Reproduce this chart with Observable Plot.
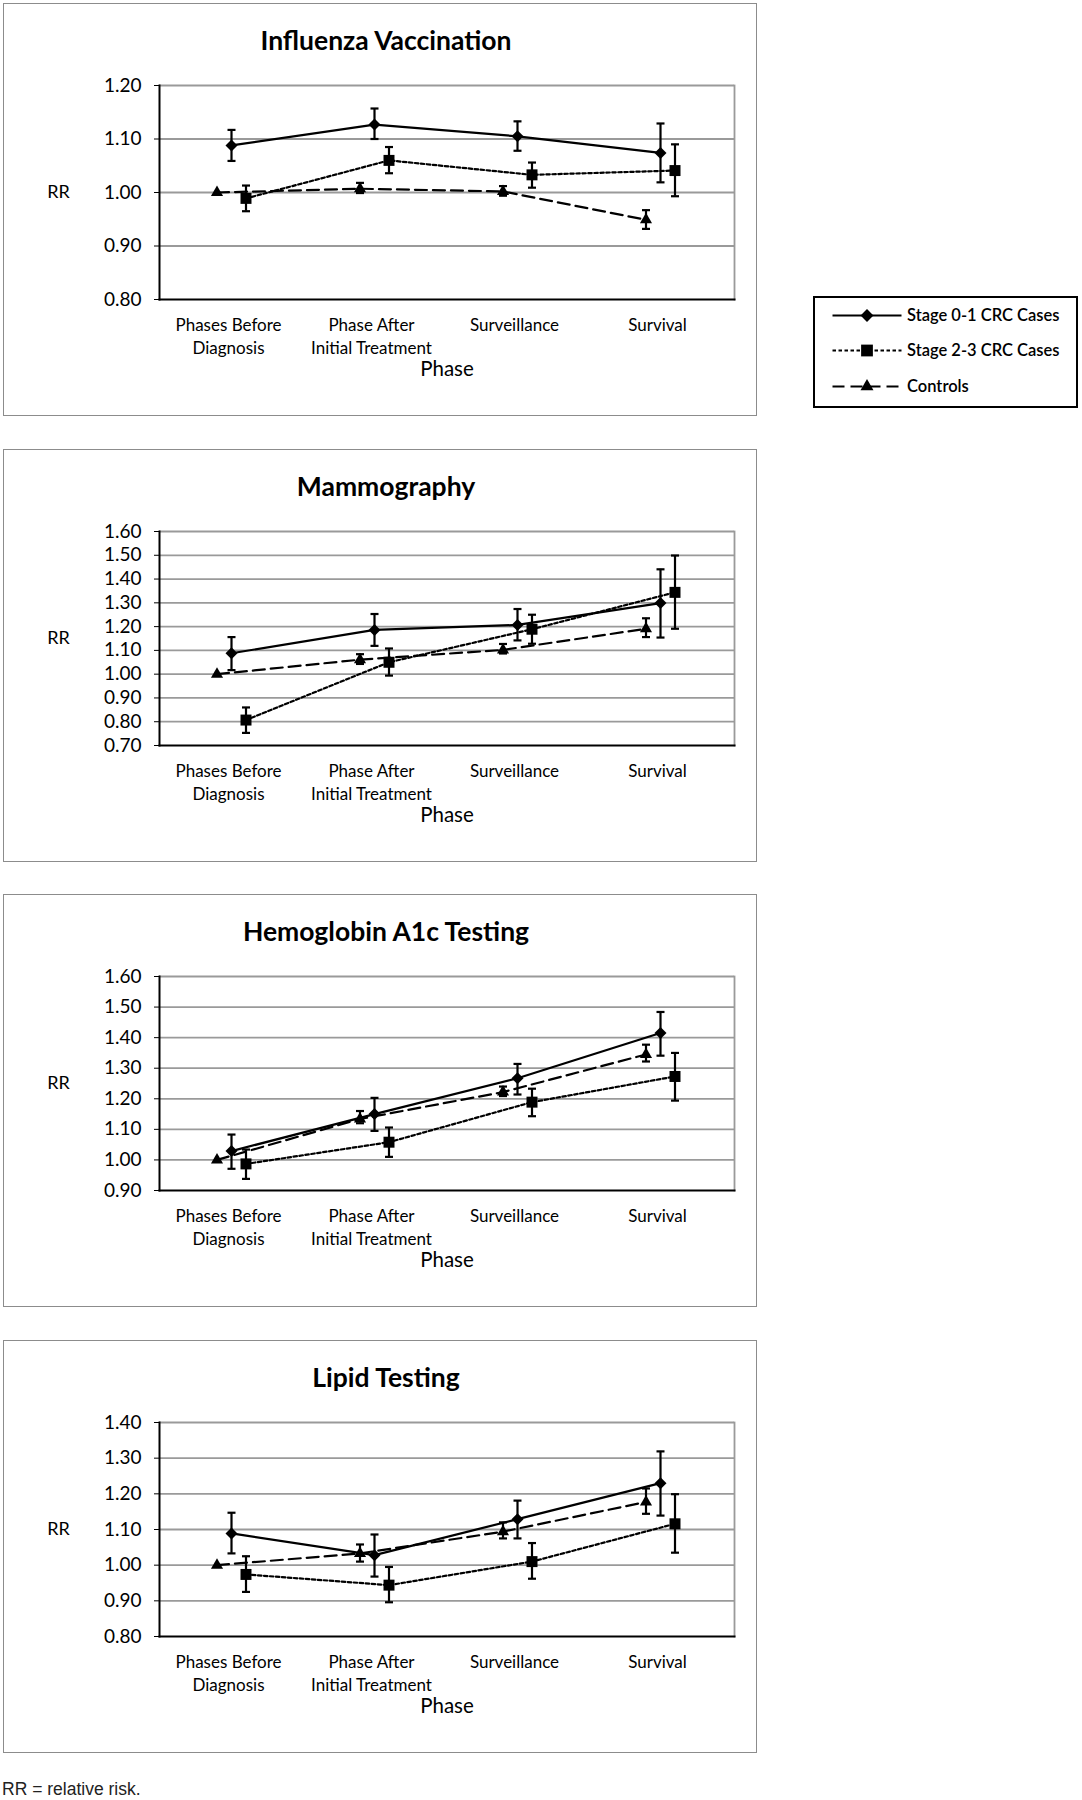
<!DOCTYPE html>
<html>
<head>
<meta charset="utf-8">
<script src="https://cdn.jsdelivr.net/npm/d3@7"></script>
<script src="https://cdn.jsdelivr.net/npm/@observablehq/plot@0.6"></script>
<style>
  body { margin: 0; background: #fff; }
  #page { position: relative; width: 1082px; height: 1800px; overflow: hidden; font-family: Lato, "Open Sans", sans-serif; color: #000; }
  .panel { position: absolute; left: 3px; width: 754px; height: 413px; border: 1.5px solid #8c8c8c; box-sizing: border-box; }
  .title { position: absolute; left: 0; width: 772px; text-align: center; font-size: 26.5px; line-height: 26px; font-weight: 700; }
  .plotwrap { position: absolute; left: 0; }
  .legend { position: absolute; left: 813px; top: 296px; width: 265px; height: 112px; border: 2.5px solid #000; box-sizing: border-box; }
  .caption { position: absolute; left: 2px; top: 1780px; font-family: "Liberation Sans", Arial, sans-serif; font-size: 17.5px; line-height: 19px; color: #222; }
</style>
</head>
<body>
<div id="page"></div>
<script>
// ---------- data ----------
const phases = ["Phases Before\nDiagnosis", "Phase After\nInitial Treatment", "Surveillance", "Survival"];
const seriesNames = ["Stage 0-1 CRC Cases", "Stage 2-3 CRC Cases", "Controls"];
const panelTitles = ["Influenza Vaccination", "Mammography", "Hemoglobin A1c Testing", "Lipid Testing"];
const yDomains = [[0.8, 1.2], [0.7, 1.6], [0.9, 1.6], [0.8, 1.4]];

// rows: Stage 0-1, Stage 2-3, Controls; columns: phases
const fluRR   = [[1.088, 1.127, 1.105, 1.074], [0.989, 1.060, 1.033, 1.041], [1.000, 1.007, 1.002, 0.949]];
const fluLow  = [[1.059, 1.100, 1.078, 1.019], [0.965, 1.036, 1.009, 0.993], [null, 0.999, 0.994, 0.932]];
const fluHigh = [[1.117, 1.157, 1.133, 1.129], [1.013, 1.085, 1.056, 1.090], [null, 1.018, 1.012, 0.967]];

const mamRR   = [[1.088, 1.186, 1.207, 1.299], [0.807, 1.050, 1.189, 1.344], [1.000, 1.061, 1.102, 1.191]];
const mamLow  = [[1.017, 1.119, 1.142, 1.154], [0.753, 0.994, 1.128, 1.191], [null, 1.043, 1.087, 1.156]];
const mamHigh = [[1.156, 1.253, 1.274, 1.441], [0.860, 1.108, 1.250, 1.499], [null, 1.084, 1.127, 1.235]];

const hbaRR   = [[1.029, 1.150, 1.267, 1.415], [0.987, 1.058, 1.189, 1.273], [1.000, 1.134, 1.222, 1.345]];
const hbaLow  = [[0.971, 1.095, 1.214, 1.341], [0.938, 1.010, 1.143, 1.194], [null, 1.120, 1.209, 1.322]];
const hbaHigh = [[1.083, 1.203, 1.314, 1.484], [1.034, 1.106, 1.233, 1.350], [null, 1.160, 1.240, 1.377]];

const lipRR   = [[1.089, 1.028, 1.129, 1.230], [0.974, 0.944, 1.010, 1.116], [1.000, 1.033, 1.094, 1.177]];
const lipLow  = [[1.033, 0.968, 1.075, 1.139], [0.925, 0.896, 0.962, 1.035], [null, 1.010, 1.075, 1.144]];
const lipHigh = [[1.147, 1.086, 1.181, 1.319], [1.025, 0.995, 1.062, 1.199], [null, 1.058, 1.120, 1.215]];

// ---------- styles ----------
const seriesSymbols = ["diamond2", "square", "triangle"];
const seriesR = [5.4, 6.2, 4.5];
const seriesDash = [null, "3.5,2.5", "12,6"];
const seriesDx = [-1, 13.5, -15.5];
const panelTops = [3, 449, 894, 1340];

const capSymbol = {
  draw(context, size) {
    const r = Math.sqrt(size / Math.PI);
    context.moveTo(-r, 0);
    context.lineTo(r, 0);
  }
};

const page = document.getElementById("page");
const panelData = [
  [fluRR, fluLow, fluHigh],
  [mamRR, mamLow, mamHigh],
  [hbaRR, hbaLow, hbaHigh],
  [lipRR, lipLow, lipHigh]
];

panelData.forEach(([rr, lo, hi], i) => {
  const top = panelTops[i];
  const box = document.createElement("div");
  box.className = "panel";
  box.style.top = top + "px";
  page.appendChild(box);

  const t = document.createElement("div");
  t.className = "title";
  t.style.top = (top + 24) + "px";
  t.textContent = panelTitles[i];
  page.appendChild(t);

  const dom = yDomains[i];
  const ticks = d3.range(Math.round(dom[0] * 10), Math.round(dom[1] * 10) + 1).map(d => d / 10);

  const marks = [
    Plot.ruleY(ticks.slice(1), {stroke: "#9a9a9a", strokeWidth: 1.8}),
    Plot.frame({anchor: "right", stroke: "#9a9a9a", strokeWidth: 1.8}),
    Plot.frame({anchor: "left", stroke: "#000", strokeWidth: 2}),
    Plot.frame({anchor: "bottom", stroke: "#000", strokeWidth: 2}),
    Plot.axisY({ticks, tickFormat: d3.format(".2f"), tickSize: 5, tickPadding: 13, fontSize: 19, label: null}),
    Plot.text(["RR"], {frameAnchor: "left", dx: -101, textAnchor: "middle", fontSize: 18}),
    Plot.text(phases, {x: d => d, frameAnchor: "bottom", lineAnchor: "top", dy: 15, dx: -4, fontSize: 17, lineHeight: 1.35}),
    Plot.text(["Phase"], {frameAnchor: "bottom", dy: 70, fontSize: 20.5, lineAnchor: "middle"})
  ];

  seriesNames.forEach((name, s) => {
    const rows = phases.map((p, j) => ({phase: p, rr: rr[s][j], lo: lo[s][j], hi: hi[s][j]}));
    const err = rows.filter(d => d.lo != null);
    const dx = seriesDx[s];
    marks.push(
      Plot.line(rows, {x: "phase", y: "rr", dx, stroke: "#000", strokeWidth: 2.2, strokeDasharray: seriesDash[s]}),
      Plot.ruleX(err, {x: "phase", y1: "lo", y2: "hi", dx, stroke: "#000", strokeWidth: 2.2}),
      Plot.dot(err, {x: "phase", y: "lo", dx, symbol: capSymbol, r: 4, fill: "none", stroke: "#000", strokeWidth: 2.2}),
      Plot.dot(err, {x: "phase", y: "hi", dx, symbol: capSymbol, r: 4, fill: "none", stroke: "#000", strokeWidth: 2.2}),
      Plot.dot(rows, {x: "phase", y: "rr", dx, symbol: seriesSymbols[s], r: seriesR[s], fill: "#000", stroke: "none"})
    );
  });

  const chart = Plot.plot({
    width: 757,
    height: 324,
    marginLeft: 159,
    marginRight: 23,
    marginTop: 20,
    marginBottom: 90,
    style: {fontFamily: "Lato, 'Open Sans', sans-serif", fontSize: "16px", color: "#000", background: "transparent", overflow: "visible"},
    x: {type: "point", domain: phases, padding: 0.5, axis: null},
    y: {domain: dom},
    marks
  });
  const wrap = document.createElement("div");
  wrap.className = "plotwrap";
  wrap.style.top = (top + 62) + "px";
  wrap.appendChild(chart);
  page.appendChild(wrap);
});

// ---------- legend ----------
const legend = d3.select(page).append("div").attr("class", "legend");
const lsvg = legend.append("svg").attr("width", 260).attr("height", 107).style("display", "block");
const rowY = [17.5, 52.5, 88.5];
seriesNames.forEach((name, s) => {
  const g = lsvg.append("g").attr("transform", `translate(0,${rowY[s]})`);
  g.append("line").attr("x1", 17.5).attr("x2", 86.5).attr("y1", 0).attr("y2", 0)
    .attr("stroke", "#000").attr("stroke-width", 2.2)
    .attr("stroke-dasharray", seriesDash[s]);
  const sym = [d3.symbolDiamond2, d3.symbolSquare, d3.symbolTriangle][s];
  g.append("path").attr("transform", "translate(52,0)")
    .attr("d", d3.symbol(sym, Math.PI * seriesR[s] * seriesR[s] * 1.15)());
  g.append("text").attr("x", 92).attr("y", 0).attr("dy", "0.35em")
    .attr("font-family", "Lato, 'Open Sans', sans-serif").attr("font-size", 16.5).attr("font-weight", 600)
    .text(name);
});

// ---------- caption ----------
d3.select(page).append("div").attr("class", "caption").text("RR = relative risk.");
</script>
</body>
</html>
